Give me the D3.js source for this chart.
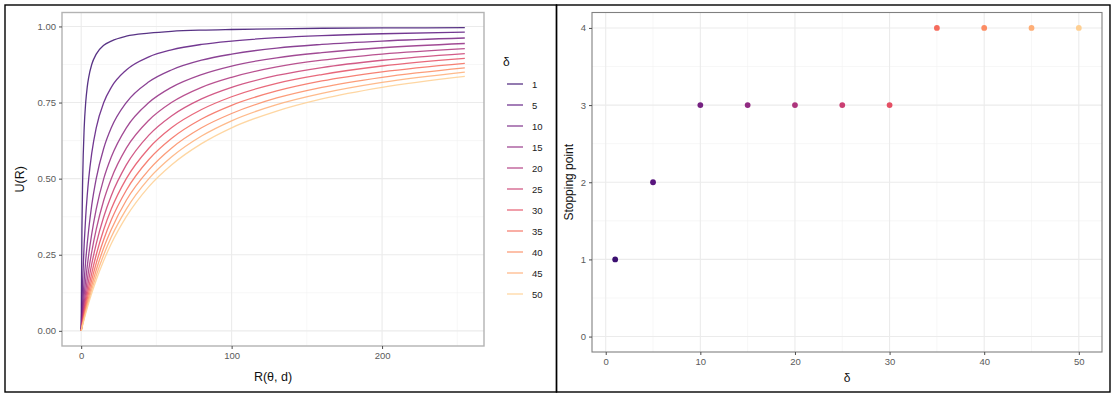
<!DOCTYPE html>
<html>
<head>
<meta charset="utf-8">
<script src="https://cdn.jsdelivr.net/npm/d3@7"></script>
<style>
  html, body { margin: 0; padding: 0; background: #fff; }
  svg { display: block; font-family: "Liberation Sans", Arial, "DejaVu Sans", sans-serif; }
</style>
</head>
<body>
<svg id="chart" width="1114" height="399"></svg>
<script>
// ---------- DATA ----------
const deltas = [1, 5, 10, 15, 20, 25, 30, 35, 40, 45, 50];
const rValues = [0, 0.5, 1, 2, 3, 4, 5, 7, 10, 15, 20, 30, 45, 60, 80, 100, 130, 160, 200, 255];
const u1  = [0, 0.333, 0.5,   0.667, 0.75,  0.8,   0.833, 0.875, 0.909, 0.938, 0.952, 0.968, 0.978, 0.984, 0.988, 0.990, 0.992, 0.994, 0.995, 0.996];
const u5  = [0, 0.091, 0.167, 0.286, 0.375, 0.444, 0.5,   0.583, 0.667, 0.75,  0.8,   0.857, 0.9,   0.923, 0.941, 0.952, 0.963, 0.970, 0.976, 0.981];
const u10 = [0, 0.048, 0.091, 0.167, 0.231, 0.286, 0.333, 0.412, 0.5,   0.6,   0.667, 0.75,  0.818, 0.857, 0.889, 0.909, 0.929, 0.941, 0.952, 0.962];
const u15 = [0, 0.032, 0.063, 0.118, 0.167, 0.211, 0.25,  0.318, 0.4,   0.5,   0.571, 0.667, 0.75,  0.8,   0.842, 0.870, 0.897, 0.914, 0.930, 0.944];
const u20 = [0, 0.024, 0.048, 0.091, 0.130, 0.167, 0.2,   0.259, 0.333, 0.429, 0.5,   0.6,   0.692, 0.75,  0.8,   0.833, 0.867, 0.889, 0.909, 0.927];
const u25 = [0, 0.020, 0.038, 0.074, 0.107, 0.138, 0.167, 0.219, 0.286, 0.375, 0.444, 0.545, 0.643, 0.706, 0.762, 0.8,   0.839, 0.865, 0.889, 0.911];
const u30 = [0, 0.016, 0.032, 0.063, 0.091, 0.118, 0.143, 0.189, 0.25,  0.333, 0.4,   0.5,   0.6,   0.667, 0.727, 0.769, 0.813, 0.842, 0.870, 0.895];
const u35 = [0, 0.014, 0.028, 0.054, 0.079, 0.103, 0.125, 0.167, 0.222, 0.3,   0.364, 0.462, 0.563, 0.632, 0.696, 0.741, 0.788, 0.821, 0.851, 0.879];
const u40 = [0, 0.012, 0.024, 0.048, 0.070, 0.091, 0.111, 0.149, 0.2,   0.273, 0.333, 0.429, 0.529, 0.6,   0.667, 0.714, 0.765, 0.8,   0.833, 0.864];
const u45 = [0, 0.011, 0.022, 0.043, 0.063, 0.082, 0.1,   0.135, 0.182, 0.25,  0.308, 0.4,   0.5,   0.571, 0.64,  0.690, 0.743, 0.780, 0.816, 0.85];
const u50 = [0, 0.010, 0.020, 0.038, 0.057, 0.074, 0.091, 0.123, 0.167, 0.231, 0.286, 0.375, 0.474, 0.545, 0.615, 0.667, 0.722, 0.762, 0.8,   0.836];
const uSeries = [u1, u5, u10, u15, u20, u25, u30, u35, u40, u45, u50];
const stoppingPoints = [1, 2, 3, 3, 3, 3, 3, 4, 4, 4, 4];

const leftXTicks = [0, 100, 200];
const leftYTicks = [0, 0.25, 0.5, 0.75, 1];
const leftYTickLabels = ["0.00", "0.25", "0.50", "0.75", "1.00"];
const rightXTicks = [0, 10, 20, 30, 40, 50];
const rightYTicks = [0, 1, 2, 3, 4];

// ---------- SETUP ----------
const svg = d3.select("#chart");
const color = d3.scaleOrdinal()
  .domain(deltas)
  .range(deltas.map((d, i) => d3.interpolateMagma(0.2 + 0.7 * i / (deltas.length - 1))));

// outer frames
svg.append("rect").attr("x", 5).attr("y", 5).attr("width", 551.5).attr("height", 387)
  .attr("fill", "none").attr("stroke", "#000").attr("stroke-width", 1.4);
svg.append("rect").attr("x", 556.5).attr("y", 5).attr("width", 553.5).attr("height", 387)
  .attr("fill", "none").attr("stroke", "#000").attr("stroke-width", 1.4);

function drawGrid(g, x, y, xMajor, xMinor, yMajor, yMinor, x0, x1, y0, y1) {
  g.selectAll(".xmin").data(xMinor).enter().append("line")
    .attr("x1", d => x(d)).attr("x2", d => x(d)).attr("y1", y0).attr("y2", y1)
    .attr("stroke", "#f2f2f2").attr("stroke-width", 0.6);
  g.selectAll(".ymin").data(yMinor).enter().append("line")
    .attr("y1", d => y(d)).attr("y2", d => y(d)).attr("x1", x0).attr("x2", x1)
    .attr("stroke", "#f2f2f2").attr("stroke-width", 0.6);
  g.selectAll(".xmaj").data(xMajor).enter().append("line")
    .attr("x1", d => x(d)).attr("x2", d => x(d)).attr("y1", y0).attr("y2", y1)
    .attr("stroke", "#ebebeb").attr("stroke-width", 1.1);
  g.selectAll(".ymaj").data(yMajor).enter().append("line")
    .attr("y1", d => y(d)).attr("y2", d => y(d)).attr("x1", x0).attr("x2", x1)
    .attr("stroke", "#ebebeb").attr("stroke-width", 1.1);
}

function styleAxis(sel) {
  sel.select(".domain").remove();
  sel.selectAll(".tick line").attr("stroke", "#4d4d4d").attr("stroke-width", 1);
  sel.selectAll(".tick text").attr("fill", "#5a5a5a").style("font-size", "9.5px")
    .style("font-family", "'Liberation Sans', Arial, sans-serif");
}

// ---------- LEFT PANEL ----------
const L = { x0: 62, x1: 484, y0: 12.5, y1: 346 };
const lx = d3.scaleLinear().domain([-12.75, 267.75]).range([L.x0, L.x1]);
const ly = d3.scaleLinear().domain([-0.0498, 1.0458]).range([L.y1, L.y0]);
const lg = svg.append("g");
drawGrid(lg, lx, ly, leftXTicks, [50, 150, 250], leftYTicks, [0.125, 0.375, 0.625, 0.875],
  L.x0, L.x1, L.y0, L.y1);

const line = d3.line().x(d => lx(d[0])).y(d => ly(d[1])).curve(d3.curveMonotoneX);
uSeries.forEach((vals, i) => {
  lg.append("path")
    .datum(rValues.map((r, j) => [r, vals[j]]))
    .attr("d", line)
    .attr("fill", "none")
    .attr("stroke", color(deltas[i]))
    .attr("stroke-opacity", 0.85)
    .attr("stroke-width", 1.3);
});
lg.append("rect").attr("x", L.x0).attr("y", L.y0).attr("width", L.x1 - L.x0).attr("height", L.y1 - L.y0)
  .attr("fill", "none").attr("stroke", "#b3b3b3").attr("stroke-width", 1.4);

const lxAxis = lg.append("g").attr("transform", `translate(0,${L.y1})`)
  .call(d3.axisBottom(lx).tickValues(leftXTicks).tickSize(3).tickPadding(3));
styleAxis(lxAxis);
const lyAxis = lg.append("g").attr("transform", `translate(${L.x0},0)`)
  .call(d3.axisLeft(ly).tickValues(leftYTicks).tickFormat((d, i) => leftYTickLabels[i]).tickSize(3).tickPadding(3));
styleAxis(lyAxis);

lg.append("text").attr("x", (L.x0 + L.x1) / 2).attr("y", 380.5).attr("text-anchor", "middle")
  .style("font-size", "12.5px").attr("fill", "#111").text("R(θ, d)");
lg.append("text").attr("transform", `translate(24,${(L.y0 + L.y1) / 2}) rotate(-90)`)
  .attr("text-anchor", "middle").style("font-size", "12.5px").attr("fill", "#111").text("U(R)");

// legend
const leg = svg.append("g");
leg.append("text").attr("x", 503).attr("y", 66).style("font-size", "12px").attr("fill", "#111").text("δ");
deltas.forEach((d, i) => {
  const yy = 84 + i * 21;
  leg.append("line").attr("x1", 507).attr("x2", 523).attr("y1", yy).attr("y2", yy)
    .attr("stroke", color(d)).attr("stroke-opacity", 0.85).attr("stroke-width", 1.3);
  leg.append("text").attr("x", 532).attr("y", yy + 3.5).style("font-size", "9.5px").attr("fill", "#222").text(d);
});

// ---------- RIGHT PANEL ----------
const R = { x0: 592, x1: 1102, y0: 12.5, y1: 352 };
const rx = d3.scaleLinear().domain([-1.45, 52.45]).range([R.x0, R.x1]);
const ry = d3.scaleLinear().domain([-0.2, 4.2]).range([R.y1, R.y0]);
const rg = svg.append("g");
drawGrid(rg, rx, ry, rightXTicks, [5, 15, 25, 35, 45], rightYTicks, [0.5, 1.5, 2.5, 3.5],
  R.x0, R.x1, R.y0, R.y1);

rg.selectAll(".pt").data(deltas).enter().append("circle")
  .attr("cx", d => rx(d)).attr("cy", (d, i) => ry(stoppingPoints[i]))
  .attr("r", 2.9).attr("fill", d => color(d));

rg.append("rect").attr("x", R.x0).attr("y", R.y0).attr("width", R.x1 - R.x0).attr("height", R.y1 - R.y0)
  .attr("fill", "none").attr("stroke", "#808080").attr("stroke-width", 1.1);

const rxAxis = rg.append("g").attr("transform", `translate(0,${R.y1})`)
  .call(d3.axisBottom(rx).tickValues(rightXTicks).tickFormat(d3.format("d")).tickSize(3).tickPadding(3));
styleAxis(rxAxis);
const ryAxis = rg.append("g").attr("transform", `translate(${R.x0},0)`)
  .call(d3.axisLeft(ry).tickValues(rightYTicks).tickFormat(d3.format("d")).tickSize(3).tickPadding(3));
styleAxis(ryAxis);

rg.append("text").attr("x", (R.x0 + R.x1) / 2).attr("y", 382).attr("text-anchor", "middle")
  .style("font-size", "12px").attr("fill", "#111").text("δ");
rg.append("text").attr("transform", `translate(573,${(R.y0 + R.y1) / 2}) rotate(-90)`)
  .attr("text-anchor", "middle").style("font-size", "12px").attr("fill", "#111").text("Stopping point");
</script>
</body>
</html>
